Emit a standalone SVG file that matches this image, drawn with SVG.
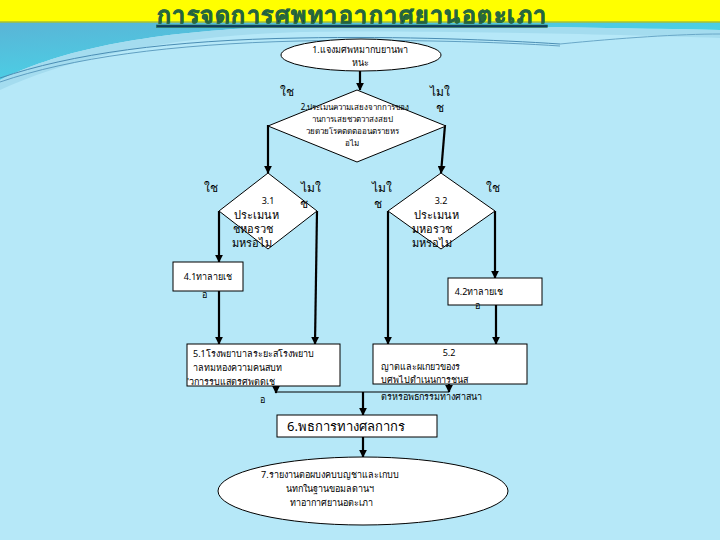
<svg xmlns="http://www.w3.org/2000/svg" width="720" height="540" viewBox="0 0 720 540">
<defs>
<linearGradient id="tl" x1="0" y1="0" x2="1" y2="1">
<stop offset="0" stop-color="#5ab4d6"/><stop offset="1" stop-color="#3ee6f2"/>
</linearGradient>
<marker id="ah" viewBox="0 0 10 10" refX="9" refY="5" markerWidth="8" markerHeight="8" markerUnits="userSpaceOnUse" orient="auto">
<path d="M0,0 L10,5 L0,10 z" fill="#000"/>
</marker>
<style>
.sh{fill:#fff;stroke:#000;stroke-width:1}
.t{font-family:"Noto Sans","DejaVu Sans",sans-serif;fill:#000}
.s10{font-size:9px}
.s12{font-size:11px}
.s13{font-size:13px}
.lbl{font-size:12px}
.c{stroke:#000;stroke-width:2.2;fill:none}
.c1{stroke:#000;stroke-width:1.2;fill:none}
</style>
</defs>
<rect width="720" height="540" fill="#b6e8f8"/>
<path d="M0,22 L720,22 L720,30 C600,28 400,24 300,26 C150,30 60,50 0,80 Z" fill="url(#tl)"/>
<path d="M0,80 C60,50 150,30 300,26 C400,24 600,28 720,30 L720,38 C600,34 400,30 300,32 C170,36 70,58 0,90 Z" fill="#a4dcef"/>
<path d="M0,78 C70,54 170,40 300,38 C400,36 500,40 560,44" stroke="#4a8db4" stroke-width="1" fill="none"/>
<path d="M0,82 C70,58 170,44 300,41 C400,39 500,42 560,46" stroke="#4a8db4" stroke-width="0.8" fill="none"/>
<path d="M560,44 C620,38 680,34 720,34" stroke="#6aa8c8" stroke-width="1" fill="none"/>
<rect width="720" height="22" fill="#ffff00"/>
<line x1="0" y1="22" x2="720" y2="22" stroke="#a8c030" stroke-width="1.5"/>
<text x="352" y="23" text-anchor="middle" font-family="'Noto Sans','DejaVu Sans',sans-serif" font-size="23" font-weight="bold" letter-spacing="1.5" fill="#0d3a66" stroke="#2a6a3a" stroke-width="0.6" text-decoration="underline">การจดการศพทาอากาศยานอตะเภา</text>

<g id="connectors">
<line class="c" x1="360" y1="70" x2="360" y2="90" marker-end="url(#ah)"/>
<line class="c" x1="268" y1="125" x2="268" y2="173" marker-end="url(#ah)"/>
<line class="c" x1="445" y1="125" x2="441" y2="173" marker-end="url(#ah)"/>
<line class="c" x1="219" y1="211" x2="219" y2="262" marker-end="url(#ah)"/>
<line class="c" x1="317" y1="211" x2="315" y2="344" marker-end="url(#ah)"/>
<line class="c" x1="219" y1="291" x2="219" y2="344" marker-end="url(#ah)"/>
<line class="c" x1="388" y1="211" x2="388" y2="344" marker-end="url(#ah)"/>
<line class="c" x1="495" y1="211" x2="495" y2="278" marker-end="url(#ah)"/>
<line class="c" x1="496" y1="305" x2="496" y2="344" marker-end="url(#ah)"/>
<line class="c1" x1="276" y1="392" x2="449" y2="392"/>
<line class="c" x1="276" y1="385" x2="276" y2="393" marker-end="url(#ah)"/>
<line class="c" x1="449" y1="384" x2="449" y2="392" marker-end="url(#ah)"/>
<line class="c" x1="363" y1="392" x2="363" y2="415" marker-end="url(#ah)"/>
<line class="c" x1="363" y1="437" x2="363" y2="457" marker-end="url(#ah)"/>
</g>

<g id="n1">
<ellipse class="sh" cx="361" cy="55" rx="80" ry="16"/>
<text class="t s10" x="360" y="53" text-anchor="middle">1.แจงมศพหมากบยานพา</text>
<text class="t s10" x="360" y="66" text-anchor="middle">หนะ</text>
</g>

<g id="n2">
<polygon class="sh" points="357,90 446,126 357,162 268,126"/>
<text class="t" x="355" y="110" text-anchor="middle" font-size="8">2.ประเมนความเสยงจากการของ</text>
<text class="t" x="352" y="122" text-anchor="middle" font-size="8">านการเสยชวตวาสงสยป</text>
<text class="t" x="352" y="134" text-anchor="middle" font-size="8">วยดวยโรคตดตออนตรายหร</text>
<text class="t" x="352" y="146" text-anchor="middle" font-size="8">อไม</text>
</g>
<g id="l2">
<text class="t lbl" x="287" y="96" text-anchor="middle">ใช</text>
<text class="t lbl" x="440" y="96" text-anchor="middle">ไมใ</text>
<text class="t lbl" x="440" y="112" text-anchor="middle">ช</text>
</g>

<g id="n31">
<polygon class="sh" points="268,173 317,211 268,249 219,211"/>
<text class="t s10" x="268" y="204" text-anchor="middle">3.1</text>
<text class="t s12" x="256" y="219" text-anchor="middle">ประเมนห</text>
<text class="t s12" x="253" y="233" text-anchor="middle">ชหอรวช</text>
<text class="t s12" x="252" y="247" text-anchor="middle">มหรอไม</text>
</g>
<g id="l31">
<text class="t lbl" x="211" y="192" text-anchor="middle">ใช</text>
<text class="t lbl" x="311" y="192" text-anchor="middle">ไมใ</text>
<text class="t lbl" x="304" y="208" text-anchor="middle">ช</text>
</g>

<g id="n32">
<polygon class="sh" points="441,173 495,211 441,249 388,211"/>
<text class="t s10" x="441" y="204" text-anchor="middle">3.2</text>
<text class="t s12" x="436" y="219" text-anchor="middle">ประเมนห</text>
<text class="t s12" x="432" y="233" text-anchor="middle">มหอรวช</text>
<text class="t s12" x="432" y="247" text-anchor="middle">มหรอไม</text>
</g>
<g id="l32">
<text class="t lbl" x="382" y="192" text-anchor="middle">ไมใ</text>
<text class="t lbl" x="378" y="208" text-anchor="middle">ช</text>
<text class="t lbl" x="493" y="192" text-anchor="middle">ใช</text>
</g>

<g id="n41">
<rect class="sh" x="173" y="262" width="70" height="29"/>
<text class="t s10" x="208" y="280" text-anchor="middle">4.1ทาลายเช</text>
<text class="t s10" x="204" y="298" text-anchor="middle">อ</text>
</g>

<g id="n42">
<rect class="sh" x="448" y="278" width="94" height="27"/>
<text class="t s10" x="479" y="295" text-anchor="middle">4.2ทาลายเช</text>
<text class="t s10" x="477" y="309" text-anchor="middle">อ</text>
</g>

<g id="n51">
<rect class="sh" x="187" y="344" width="153" height="42"/>
<text class="t s10" x="193" y="357">5.1โรงพยาบาลระยะสโรงพยาบ</text>
<text class="t s10" x="193" y="371">าลทมหองความคนสบท</text>
<text class="t s10" x="187" y="385">'วการรบแสตรศพตดเช</text>
<text class="t s10" x="262" y="403" text-anchor="middle">อ</text>
</g>

<g id="n52">
<rect class="sh" x="373" y="344" width="154" height="40"/>
<text class="t s10" x="449" y="356" text-anchor="middle">5.2</text>
<text class="t s10" x="381" y="370">ญาตและผเกยวของร</text>
<text class="t s10" x="381" y="383">บศพไปดำเนนการชนส</text>
<text class="t s10" x="381" y="400">ตรหรอพธกรรมทางศาสนา</text>
</g>

<g id="n6">
<rect class="sh" x="277" y="415" width="160" height="22"/>
<text class="t s13" x="287" y="431">6.พธการทางศลกากร</text>
</g>

<g id="n7">
<ellipse class="sh" cx="363" cy="491" rx="145" ry="34"/>
<text class="t s10" x="261" y="478">7.รายงานตอผบงคบบญชาและเกบบ</text>
<text class="t s10" x="286" y="492">นทกในฐานขอมลดานฯ</text>
<text class="t s10" x="290" y="506">ทาอากาศยานอตะเภา</text>
</g>
</svg>
